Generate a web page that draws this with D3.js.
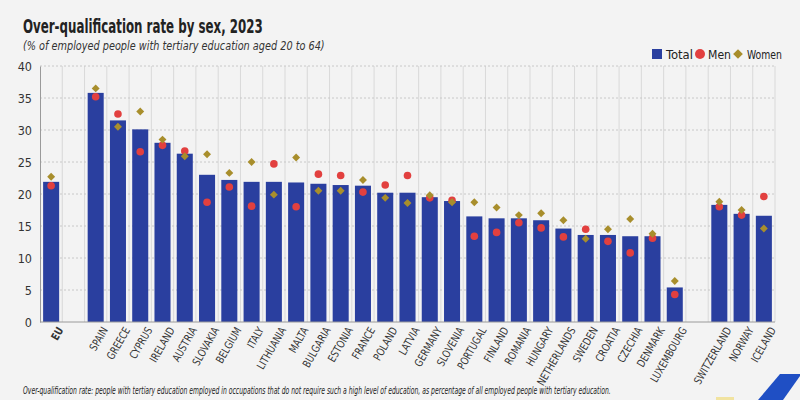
<!DOCTYPE html>
<html><head><meta charset="utf-8">
<script src="https://cdn.jsdelivr.net/npm/d3@7"></script>
<style>
html,body{margin:0;padding:0;background:#f3f3f3;}
svg{display:block;font-family:"DejaVu Sans Condensed","DejaVu Sans",sans-serif;font-stretch:condensed;}
</style></head><body>
<svg id="chart" width="800" height="400"></svg>
<script>
const categories = ["EU","", "SPAIN","GREECE","CYPRUS","IRELAND","AUSTRIA","SLOVAKIA","BELGIUM","ITALY","LITHUANIA","MALTA","BULGARIA","ESTONIA","FRANCE","POLAND","LATVIA","GERMANY","SLOVENIA","PORTUGAL","FINLAND","ROMANIA","HUNGARY","NETHERLANDS","SWEDEN","CROATIA","CZECHIA","DENMARK","LUXEMBOURG"," ","SWITZERLAND","NORWAY","ICELAND"];
const totalValues = [21.9,null,35.8,31.5,30.1,28.0,26.3,23.0,22.2,21.9,21.9,21.8,21.6,21.4,21.3,20.2,20.2,19.5,18.9,16.5,16.2,16.2,15.9,14.6,13.6,13.6,13.4,13.4,5.4,null,18.3,16.9,16.6];
const menValues   = [21.3,null,35.2,32.5,26.6,27.6,26.7,18.7,21.1,18.1,24.7,18.0,23.1,22.9,20.3,21.4,22.9,19.4,19.0,13.4,14.0,15.5,14.7,13.3,14.5,12.6,10.8,13.1,4.3,null,18.0,16.7,19.6];
const womenValues = [22.7,null,36.5,30.5,32.9,28.5,25.9,26.2,23.3,25.0,19.9,25.7,20.5,20.5,22.2,19.4,18.6,19.8,18.7,18.7,17.9,16.7,17.0,15.9,13.0,14.5,16.1,13.8,6.4,null,18.8,17.5,14.6];
const yTicks = [0,5,10,15,20,25,30,35,40];
const seriesNames = ["Total","Men","Women"];
const titleText = "Over-qualification rate by sex, 2023";
const subtitleText = "(% of employed people with tertiary education aged 20 to 64)";
const footnoteText = "Over-qualification rate: people with tertiary education employed in occupations that do not require such a high level of education, as percentage of all employed people with tertiary education.";

const colors = {Total:"#2a3f9f", Men:"#e2403f", Women:"#a88e2c"};
const svg = d3.select("#chart");
const W = 800, H = 400;
const m = {left:40, right:25, top:66, bottom:78};
const x = d3.scaleBand().domain(categories).range([m.left, W - m.right]).paddingInner(0.28).paddingOuter(0.14);
const y = d3.scaleLinear().domain([0,40]).range([H - m.bottom, m.top]);

svg.append("rect").attr("width",W).attr("height",H).attr("fill","#f3f3f3");

// fit a text horizontally to a target width using a scale transform
function fitText(sel, x0, y0, width) {
  const natural = sel.node().getComputedTextLength();
  const k = width / natural;
  sel.attr("x",0).attr("y",0).attr("transform",`translate(${x0},${y0}) scale(${k},1)`);
}

// title
fitText(svg.append("text").attr("font-size",20).attr("font-weight","bold").attr("fill","#222").text(titleText), 23, 33, 240);
fitText(svg.append("text").attr("font-size",12.5).attr("font-style","italic").attr("fill","#333").text(subtitleText), 23, 50, 302);

// vertical grid at band boundaries
const bounds = d3.range(categories.length + 1).map(i => m.left + i * (W - m.right - m.left) / categories.length);
svg.append("g").selectAll("line").data(bounds.slice(1)).join("line")
  .attr("x1",d=>d).attr("x2",d=>d).attr("y1",y(40)).attr("y2",y(0))
  .attr("stroke","#d9d9d9").attr("stroke-width",1);

// horizontal grid
svg.append("g").selectAll("line").data(yTicks.filter(t=>t>0)).join("line")
  .attr("x1",m.left).attr("x2",W-m.right).attr("y1",d=>y(d)).attr("y2",d=>y(d))
  .attr("stroke","#c8c8c8").attr("stroke-dasharray","2,2");

// y axis
const yAxis = svg.append("g").attr("transform",`translate(${m.left},0)`)
  .call(d3.axisLeft(y).tickValues(yTicks).tickSize(0).tickPadding(8));
yAxis.attr("font-family",null);
yAxis.select(".domain").attr("stroke","#9a9a9a");
yAxis.selectAll("text").attr("font-size",12.5).attr("fill","#333");

// bars
const idx = d3.range(categories.length);
svg.append("g").selectAll("rect").data(idx.filter(i=>totalValues[i]!=null)).join("rect")
  .attr("x",i=>x(categories[i])).attr("width",x.bandwidth())
  .attr("y",i=>y(totalValues[i])).attr("height",i=>y(0)-y(totalValues[i]))
  .attr("fill",colors.Total);

// x axis
const xAxis = svg.append("g").attr("transform",`translate(0,${y(0)})`)
  .call(d3.axisBottom(x).tickSize(0).tickPadding(6));
xAxis.attr("font-family",null);
xAxis.select(".domain").attr("stroke","#9a9a9a").attr("d",`M${m.left},0H${W-m.right}`);
xAxis.selectAll("text")
  .attr("font-size",11).attr("fill","#333")
  .attr("text-anchor","end").attr("dy","0.35em")
  .attr("transform","translate(4,3) rotate(-60) scale(0.88,1)")
  .attr("font-weight",d=>d==="EU"?"bold":"normal");

// men circles
svg.append("g").selectAll("circle").data(idx.filter(i=>menValues[i]!=null)).join("circle")
  .attr("cx",i=>x(categories[i])+x.bandwidth()/2).attr("cy",i=>y(menValues[i])).attr("r",3.8)
  .attr("fill",colors.Men);

// women diamonds
const diamond = d3.symbol().type(d3.symbolDiamond2).size(40);
svg.append("g").selectAll("path").data(idx.filter(i=>womenValues[i]!=null)).join("path")
  .attr("d",diamond)
  .attr("transform",i=>`translate(${x(categories[i])+x.bandwidth()/2},${y(womenValues[i])})`)
  .attr("fill",colors.Women);

// legend
const lg = svg.append("g").attr("font-size",13).attr("fill","#222");
lg.append("rect").attr("x",652).attr("y",49).attr("width",10).attr("height",10).attr("fill",colors.Total);
fitText(lg.append("text").text(seriesNames[0]), 666, 58.5, 27);
lg.append("circle").attr("cx",700).attr("cy",54).attr("r",5).attr("fill",colors.Men);
fitText(lg.append("text").text(seriesNames[1]), 708, 58.5, 23);
lg.append("path").attr("d",d3.symbol().type(d3.symbolDiamond2).size(60)).attr("transform","translate(738,54)").attr("fill",colors.Women);
fitText(lg.append("text").text(seriesNames[2]), 747, 58.5, 35);

// footnote
fitText(svg.append("text").attr("font-size",10.5).attr("font-style","italic").attr("fill","#222").text(footnoteText), 23, 394, 588);

// decoration
svg.append("path").attr("d","M758,400L780,374L800,374L800,376L783,400Z").attr("fill","#1f4fc4");
svg.append("rect").attr("x",716).attr("y",397).attr("width",18).attr("height",3).attr("fill","#f1e3a0");
</script>
</body></html>
